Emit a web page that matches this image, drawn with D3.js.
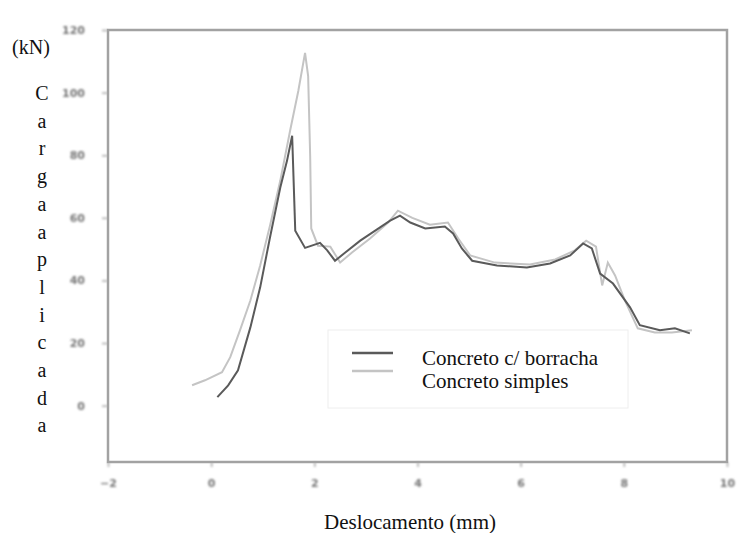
<!DOCTYPE html>
<html>
<head>
<meta charset="utf-8">
<script src="https://cdn.jsdelivr.net/npm/d3@7"></script>
<style>
  body { margin: 0; background: #fff; }
  text { font-family: "Liberation Serif", "Times New Roman", serif; }
</style>
</head>
<body>
<div id="chart"></div>
<script>
// Chart data
var xTicks = [-2, 0, 2, 4, 6, 8, 10];
var yTicks = [0, 20, 40, 60, 80, 100, 120];

// Concreto c/ borracha (dark)
var rubberX = [0.12, 0.33, 0.52, 0.76, 0.95, 1.14, 1.34, 1.47, 1.57, 1.63, 1.82, 2.11, 2.25, 2.40, 2.60, 2.89, 3.18, 3.47, 3.66, 3.86, 4.15, 4.53, 4.69, 4.86, 5.06, 5.54, 6.12, 6.57, 6.96, 7.21, 7.38, 7.54, 7.79, 8.12, 8.31, 8.70, 8.99, 9.28];
var rubberY = [2.7, 6.5, 11.3, 25.0, 37.8, 53.7, 69.7, 78.2, 86.2, 55.9, 50.4, 52.0, 49.6, 46.3, 48.9, 52.7, 55.9, 59.1, 60.7, 58.5, 56.6, 57.2, 55.0, 50.2, 46.3, 44.8, 44.1, 45.4, 48.0, 51.8, 50.2, 42.2, 39.0, 31.4, 25.7, 24.1, 24.7, 23.1];

// Concreto simples (light)
var plainX = [-0.37, -0.12, 0.21, 0.37, 0.56, 0.76, 0.95, 1.14, 1.34, 1.53, 1.69, 1.82, 1.88, 1.92, 1.94, 2.07, 2.31, 2.50, 2.73, 3.08, 3.43, 3.62, 3.90, 4.24, 4.59, 4.79, 5.02, 5.50, 6.18, 6.67, 7.05, 7.27, 7.46, 7.58, 7.69, 7.83, 8.02, 8.27, 8.60, 8.93, 9.32];
var plainY = [6.5, 8.1, 10.7, 15.5, 24.1, 33.6, 44.8, 57.5, 71.9, 87.8, 100.6, 112.7, 105.3, 79.2, 56.6, 51.1, 50.8, 45.7, 48.9, 53.4, 58.5, 62.3, 60.0, 57.8, 58.5, 53.4, 48.0, 45.7, 45.1, 46.7, 49.6, 52.7, 50.8, 38.4, 45.7, 41.6, 33.6, 24.7, 23.4, 23.4, 24.1];

var seriesNames = ["Concreto c/ borracha", "Concreto simples"];
var seriesColors = ["#5a5a5a", "#c4c4c4"];

var svgWidth = 748;
var svgHeight = 533;
var plot = { left: 108, right: 727, top: 30, bottom: 462 };

var svg = d3.select("#chart")
  .append("svg")
  .attr("width", svgWidth)
  .attr("height", svgHeight);

// soft blur to get closer to the scanned look
// (user space region, wide enough for translated groups and flat lines)
var defs = svg.append("defs");
[["soft", 0.6], ["fuzzy", 0.9]].forEach(function(f) {
  defs.append("filter").attr("id", f[0])
    .attr("filterUnits", "userSpaceOnUse")
    .attr("x", -800).attr("y", -800).attr("width", 2400).attr("height", 2400)
    .append("feGaussianBlur").attr("stdDeviation", f[1]);
});

var x = d3.scaleLinear().domain([-2, 10]).range([plot.left, plot.right]);
var y = d3.scaleLinear().domain([-18, 120]).range([plot.bottom, plot.top]);

// Axes (ticks only, frame drawn separately)
var bottomAxis = d3.axisBottom(x).tickValues(xTicks).tickSize(5).tickPadding(12);
var leftAxis = d3.axisLeft(y).tickValues(yTicks).tickSize(6).tickPadding(17);

var xAxis = svg.append("g")
  .attr("transform", `translate(0, ${plot.bottom})`)
  .attr("filter", "url(#fuzzy)")
  .call(bottomAxis);

var yAxis = svg.append("g")
  .attr("transform", `translate(${plot.left}, 0)`)
  .attr("filter", "url(#fuzzy)")
  .call(leftAxis);

[xAxis, yAxis].forEach(function(g) {
  g.select(".domain").remove();
  g.selectAll("line").attr("stroke", "#aaa").attr("stroke-width", 1.5);
  g.selectAll("text")
    .attr("fill", "#777")
    .style("font-family", "'DejaVu Sans', sans-serif")
    .style("font-weight", "bold")
    .style("font-size", "11px");
});

// Frame
svg.append("rect")
  .attr("x", plot.left)
  .attr("y", plot.top)
  .attr("width", plot.right - plot.left)
  .attr("height", plot.bottom - plot.top)
  .attr("fill", "none")
  .attr("stroke", "#a2a2a2")
  .attr("stroke-width", 2.5);

// Curves
var line = d3.line()
  .x(d => x(d[0]))
  .y(d => y(d[1]));

var plainData = plainX.map((v, i) => [v, plainY[i]]);
var rubberData = rubberX.map((v, i) => [v, rubberY[i]]);

// Legend (box sits under the curves)
var legend = svg.append("g");
legend.append("rect")
  .attr("x", 328).attr("y", 330)
  .attr("width", 300).attr("height", 78)
  .attr("fill", "#fff")
  .attr("stroke", "#eee")
  .attr("stroke-width", 1);

seriesNames.forEach(function(name, i) {
  legend.append("line")
    .attr("x1", 352).attr("x2", 393)
    .attr("y1", 353 + i * 18).attr("y2", 353 + i * 18)
    .attr("stroke", seriesColors[i])
    .attr("stroke-width", 2.5)
    .attr("filter", "url(#soft)");
  legend.append("text")
    .attr("x", 422)
    .attr("y", 365 + i * 23)
    .attr("fill", "#111")
    .style("font-size", "21px")
    .text(name);
});

svg.append("path")
  .datum(plainData)
  .attr("d", line)
  .attr("fill", "none")
  .attr("stroke", seriesColors[1])
  .attr("stroke-width", 2)
  .attr("filter", "url(#soft)");

svg.append("path")
  .datum(rubberData)
  .attr("d", line)
  .attr("fill", "none")
  .attr("stroke", seriesColors[0])
  .attr("stroke-width", 2)
  .attr("filter", "url(#soft)");

// Axis titles
svg.append("text")
  .attr("x", 410)
  .attr("y", 529)
  .attr("text-anchor", "middle")
  .attr("fill", "#111")
  .style("font-size", "21px")
  .text("Deslocamento (mm)");

svg.append("text")
  .attr("x", 31)
  .attr("y", 54)
  .attr("text-anchor", "middle")
  .attr("fill", "#111")
  .style("font-size", "20px")
  .text("(kN)");

var yTitle = "Cargaaplicada".split("");
svg.append("g").selectAll("text")
  .data(yTitle)
  .enter()
  .append("text")
  .attr("x", 42)
  .attr("y", (d, i) => 100 + i * 27.7)
  .attr("text-anchor", "middle")
  .attr("fill", "#111")
  .style("font-size", "20px")
  .text(d => d);
</script>
</body>
</html>
